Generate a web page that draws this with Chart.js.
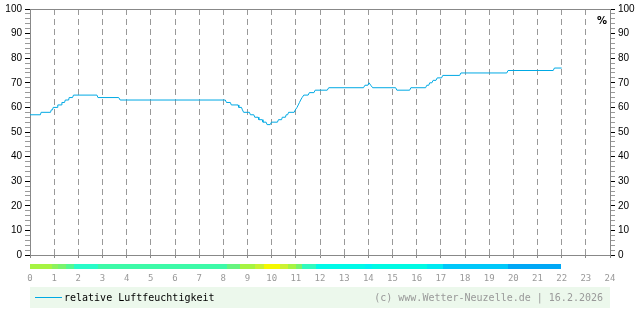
<!DOCTYPE html>
<html>
<head>
<meta charset="utf-8">
<script src="https://cdn.jsdelivr.net/npm/chart.js@4/dist/chart.umd.min.js"></script>
<style>
body { margin: 0; background: #fff; }
canvas { display: block; }
</style>
</head>
<body>
<canvas id="chart" width="640" height="315"></canvas>
<script>
// Messzeitpunkte (Stunden) und relative Luftfeuchtigkeit in %
const hours = [0, 0.43, 0.46, 0.85, 0.88, 0.93, 0.96, 1.12, 1.15, 1.29, 1.32, 1.43, 1.46, 1.6, 1.62, 1.76, 1.8, 2.77, 2.81, 3.67,
  3.73, 8.08, 8.13, 8.29, 8.33, 8.61, 8.64, 8.75, 8.79, 8.84, 9.08, 9.12, 9.26, 9.3, 9.44, 9.47, 9.61, 9.64, 9.77, 9.81,
  9.94, 9.99, 10.24, 10.28, 10.41, 10.44, 10.57, 10.6, 10.66, 10.7, 10.93, 10.98, 11.05, 11.1, 11.15, 11.2, 11.26, 11.33, 11.51, 11.56,
  11.75, 11.8, 12.3, 12.36, 13.8, 13.86, 13.98, 14.03, 14.1, 14.18, 15.13, 15.18, 15.71, 15.76, 16.37, 16.42, 16.5, 16.54, 16.63, 16.68,
  16.8, 16.85, 17.03, 17.08, 17.78, 17.83, 19.73, 19.78, 21.65, 21.7, 22.0];
const humidity = [57, 57, 58, 58, 59, 59, 60, 60, 61, 61, 62, 62, 63, 63, 64, 64, 65, 65, 64, 64,
  63, 63, 62, 62, 61, 61, 60, 60, 59, 58, 58, 57, 57, 56, 56, 55, 55, 54, 54, 53,
  53, 54, 54, 55, 55, 56, 56, 57, 57, 58, 58, 59, 60, 61, 62, 63, 64, 65, 65, 66,
  66, 67, 67, 68, 68, 69, 69, 70, 69, 68, 68, 67, 67, 68, 68, 69, 69, 70, 70, 71,
  71, 72, 72, 73, 73, 74, 74, 75, 75, 76, 76];

// Farbband unter der Zeitachse
const bandStart = [0, 0.9, 1.15, 1.47, 1.8, 2.8, 8.17, 8.68, 9.33, 9.67, 10.35, 10.67, 11.0, 11.27, 11.82, 13.85, 14.17, 16.42, 17.08, 19.76];
const bandEnd = [0.9, 1.15, 1.47, 1.8, 2.8, 8.17, 8.68, 9.33, 9.67, 10.35, 10.67, 11.0, 11.27, 11.82, 13.85, 14.17, 16.42, 17.08, 19.76, 21.97];
const bandColors = ['#a6f442', '#8cf25c', '#78f46c', '#54f890', '#28fcc8', '#3cfaa8', '#66f47e', '#a6f442', '#c8f232', '#f4f800',
  '#ccf232', '#a6f442', '#78f46c', '#30fabe', '#00fae8', '#00f2f4', '#00fae4', '#00eaf2', '#00c8fa', '#00a8f6'];

const seriesLabel = 'relative Luftfeuchtigkeit';
const footerText = '(c) www.Wetter-Neuzelle.de | 16.2.2026';
const unitLabel = '%';

const lineColor = '#00a9e4';
const axisColor = '#888';

const extras = {
  id: 'extras',
  afterDraw(chart) {
    const ctx = chart.ctx;
    const xs = chart.scales.x;
    const area = chart.chartArea;
    ctx.save();
    for (let i = 0; i < bandColors.length; i++) {
      const x0 = Math.round(xs.getPixelForValue(bandStart[i]));
      const x1 = Math.round(xs.getPixelForValue(bandEnd[i]));
      ctx.fillStyle = bandColors[i];
      ctx.fillRect(x0, area.bottom + 9, x1 - x0, 5);
    }

    ctx.font = 'bold 10px "DejaVu Sans"';
    ctx.fillStyle = '#000';
    ctx.textAlign = 'center';
    ctx.textBaseline = 'middle';
    ctx.fillText(unitLabel, area.right - 8, area.top + 12);

    // Legende
    const top = area.bottom + 32;
    ctx.fillStyle = '#ecf8ec';
    ctx.fillRect(area.left, top, area.right - area.left, 21);
    ctx.strokeStyle = lineColor;
    ctx.lineWidth = 1;
    ctx.beginPath();
    ctx.moveTo(area.left + 5, top + 10.5);
    ctx.lineTo(area.left + 32, top + 10.5);
    ctx.stroke();
    ctx.font = '10px "DejaVu Sans Mono"';
    ctx.textAlign = 'left';
    ctx.fillStyle = '#000';
    ctx.fillText(chart.data.datasets[0].label, area.left + 34, top + 11);
    ctx.textAlign = 'right';
    ctx.fillStyle = '#999';
    ctx.fillText(footerText, area.right - 7, top + 11);
    ctx.restore();
  }
};

const yAxis = (pos) => ({
  type: 'linear',
  position: pos,
  min: 0,
  max: 100,
  afterFit: (s) => { s.width = 30; },
  border: { color: axisColor, width: 1 },
  grid: {
    drawOnChartArea: false,
    drawTicks: true,
    tickLength: 5,
    tickColor: (c) => (c.tick && c.tick.value % 10 === 0 ? '#000' : '#999')
  },
  ticks: {
    stepSize: 2,
    autoSkip: false,
    padding: 3,
    color: '#000',
    font: { family: '"Liberation Sans"', size: 10 },
    callback: (v) => (v % 10 === 0 ? String(v) : '')
  }
});

new Chart(document.getElementById('chart'), {
  type: 'line',
  data: {
    datasets: [{
      label: seriesLabel,
      data: hours.map((h, i) => ({ x: h, y: humidity[i] })),
      borderColor: lineColor,
      borderWidth: 1,
      pointRadius: 0,
      tension: 0,
      fill: false
    }]
  },
  options: {
    responsive: false,
    animation: false,
    devicePixelRatio: 1,
    layout: { padding: { top: 5, bottom: 0, left: 0, right: 0 } },
    plugins: { legend: { display: false }, tooltip: { enabled: false } },
    scales: {
      x: {
        type: 'linear',
        position: 'bottom',
        min: 0,
        max: 24,
        afterFit: (s) => { s.height = 60; },
        border: { color: axisColor, width: 1, dash: [6, 4] },
        grid: {
          color: (c) => (c.tick && (c.tick.value === 0 || c.tick.value === 24) ? 'rgba(0,0,0,0)' : '#999'),
          drawTicks: true,
          tickLength: 3,
          tickColor: axisColor
        },
        ticks: {
          stepSize: 1,
          autoSkip: false,
          maxRotation: 0,
          padding: 15,
          color: '#999',
          font: { family: '"DejaVu Sans Mono"', size: 9 }
        }
      },
      x2: {
        type: 'linear',
        position: 'top',
        min: 0,
        max: 24,
        afterFit: (s) => { s.height = 0; },
        border: { color: axisColor, width: 1 },
        grid: { display: false },
        ticks: { display: false }
      },
      y: yAxis('left'),
      y2: yAxis('right')
    }
  },
  plugins: [extras]
});
</script>
</body>
</html>
